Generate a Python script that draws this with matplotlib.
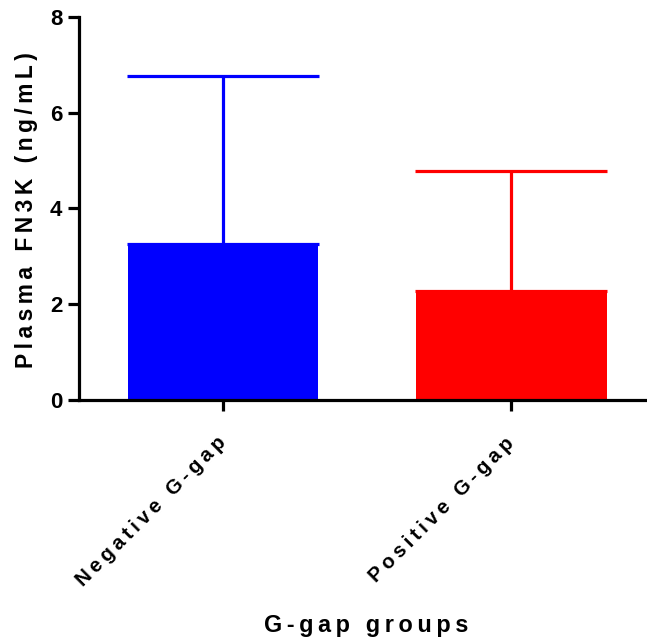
import matplotlib
matplotlib.use("Agg")
import matplotlib.pyplot as plt
from matplotlib.transforms import ScaledTranslation

# -----------------------------
# Data
# -----------------------------
groups = ["Negative G-gap", "Positive G-gap"]
means = [3.25, 2.28]
sd_upper = [3.52, 2.50]
colors = ["#0000ff", "#ff0000"]

y_ticks = [0, 2, 4, 6, 8]

FONT = ["Liberation Sans", "DejaVu Sans"]


def spaced(text):
    # wide tracking between letters, like the stats package output
    return "\u2009".join(text)


plt.rcParams["font.family"] = FONT
plt.rcParams["font.weight"] = "bold"

fig = plt.figure(figsize=(6.47, 6.39), dpi=100)
ax = fig.add_axes([79 / 647, 1 - 400 / 639, 1 - 79 / 647, (400 - 16.7) / 639])

x = list(range(len(groups)))
ax.bar(x, means, width=0.663, color=colors, zorder=2)
for xi, m, e, c in zip(x, means, sd_upper, colors):
    ax.errorbar(xi, m, yerr=[[0], [e]], color=c, elinewidth=2.3,
                capsize=69, capthick=2.3, zorder=1)

ax.set_xlim(-0.5, 1.472)
ax.set_ylim(0, 8)
ax.set_yticks(y_ticks)
ax.set_yticklabels([str(t) for t in y_ticks], fontsize=16, fontweight="bold")
ax.set_xticks(x)
ax.set_xticklabels([spaced(g) for g in groups], rotation=45, ha="right",
                   rotation_mode="anchor", fontsize=14.7, fontweight="bold")

for side in ["top", "right"]:
    ax.spines[side].set_visible(False)
for side in ["left", "bottom"]:
    ax.spines[side].set_linewidth(2.3)
ax.tick_params(axis="y", width=2.3, length=8, pad=4)
ax.tick_params(axis="x", width=2.3, length=8, pad=16)

# nudge the slanted group names a little to the left
shift = ScaledTranslation(-0.065, 0, fig.dpi_scale_trans)
for lbl in ax.get_xticklabels():
    lbl.set_transform(lbl.get_transform() + shift)

ax.set_ylabel(spaced("Plasma FN3K (ng/mL)"), fontsize=16.4, fontweight="bold")
ax.yaxis.set_label_coords(-0.072, 0.496)
ax.set_xlabel(spaced("G-gap groups"), fontsize=16.8, fontweight="bold")
ax.xaxis.set_label_coords(0.505, -0.558)

fig.savefig("out.png", dpi=100)
